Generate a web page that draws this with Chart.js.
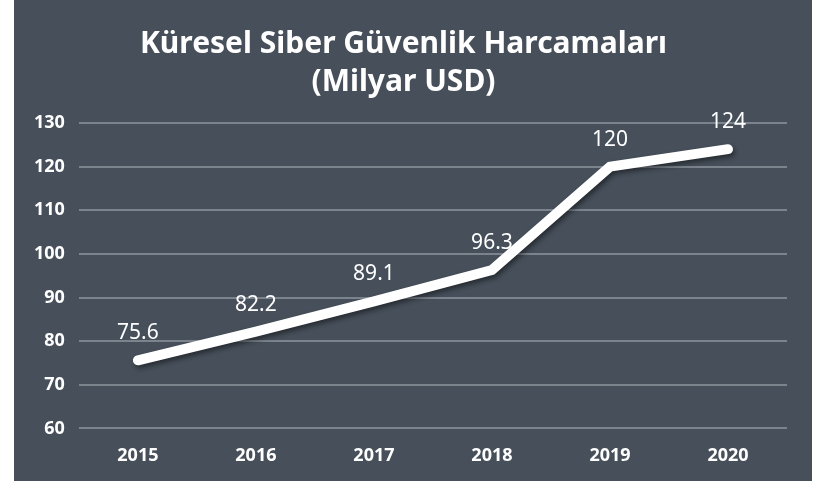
<!DOCTYPE html>
<html>
<head>
<meta charset="utf-8">
<script src="https://cdn.jsdelivr.net/npm/chart.js@4"></script>
<style>
  body { margin: 0; background: #fff; }
  #wrap { position: absolute; left: 14px; top: 0; width: 798px; height: 481px; background: #464f5a; }
</style>
</head>
<body>
<div id="wrap"><canvas id="spend-graph" width="798" height="481"></canvas></div>
<script>
const years = ['2015', '2016', '2017', '2018', '2019', '2020'];
const spending = [75.6, 82.2, 89.1, 96.3, 120, 124];
const spendLabels = ['75.6', '82.2', '89.1', '96.3', '120', '124'];
const titleLines = ['Küresel Siber Güvenlik Harcamaları', '(Milyar USD)'];

const fontFamily = '"Noto Sans", sans-serif';

// shadow under the line
const lineShadow = {
  id: 'lineShadow',
  beforeDatasetDraw(chart) {
    const ctx = chart.ctx;
    ctx.save();
    ctx.shadowColor = 'rgba(0, 0, 0, 0.45)';
    ctx.shadowBlur = 5;
    ctx.shadowOffsetX = 2;
    ctx.shadowOffsetY = 3;
  },
  afterDatasetDraw(chart) {
    chart.ctx.restore();
  }
};

// value labels above each point
const valueLabels = {
  id: 'valueLabels',
  afterDatasetsDraw(chart) {
    const ctx = chart.ctx;
    const meta = chart.getDatasetMeta(0);
    ctx.save();
    ctx.fillStyle = '#ffffff';
    ctx.font = '21px ' + fontFamily;
    ctx.textAlign = 'center';
    ctx.textBaseline = 'middle';
    meta.data.forEach((pt, i) => {
      ctx.fillText(spendLabels[i], pt.x, pt.y - 27);
    });
    ctx.restore();
  }
};

const graph = document.getElementById('spend-graph').getContext('2d');
const spendChart = new Chart(graph, {
  type: 'line',
  data: {
    labels: years,
    datasets: [{
      data: spending,
      borderColor: '#ffffff',
      borderWidth: 10,
      borderCapStyle: 'round',
      borderJoinStyle: 'miter',
      pointRadius: 0,
      tension: 0
    }]
  },
  options: {
    responsive: false,
    animation: false,
    layout: {
      padding: { left: 6, right: 25, top: 0, bottom: -3 }
    },
    plugins: {
      legend: { display: false },
      tooltip: { enabled: false },
      title: {
        display: true,
        text: titleLines,
        color: '#ffffff',
        font: { family: fontFamily, size: 30, weight: 'bold', lineHeight: 1.25 },
        padding: { top: 26, bottom: 22 }
      }
    },
    scales: {
      x: {
        offset: true,
        grid: { display: false, drawTicks: false },
        border: { display: false },
        ticks: {
          color: '#ffffff',
          padding: 17,
          font: { family: fontFamily, size: 18, weight: 'bold' }
        }
      },
      y: {
        min: 60,
        max: 130,
        grid: { color: '#7b838c', lineWidth: 2, drawTicks: false },
        border: { display: false },
        ticks: {
          stepSize: 10,
          color: '#ffffff',
          padding: 14,
          font: { family: fontFamily, size: 18, weight: 'bold' }
        }
      }
    }
  },
  plugins: [lineShadow, valueLabels]
});
</script>
</body>
</html>
